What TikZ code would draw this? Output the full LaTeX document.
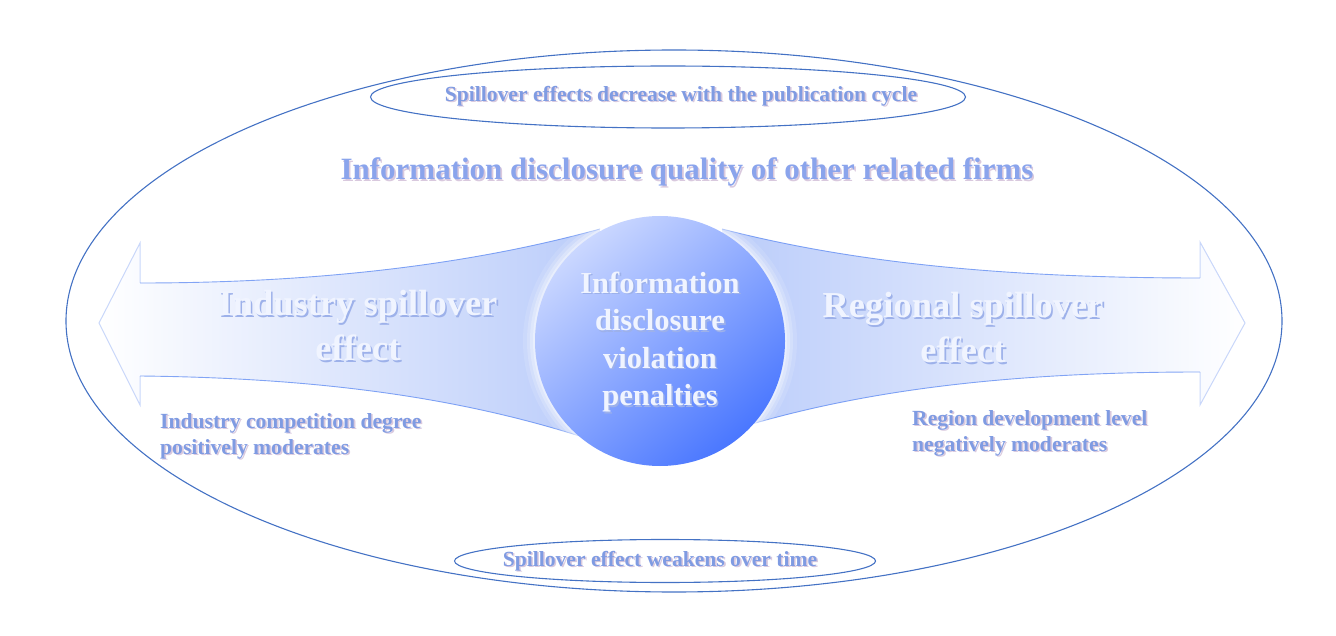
\documentclass[tikz,border=0pt]{standalone}
\usepackage{fontspec}
\setmainfont{Liberation Serif}
\usetikzlibrary{shapes.geometric}

\definecolor{ringblue}{HTML}{4472C4}
\definecolor{labelblue}{HTML}{7F9BE2}
\definecolor{titleblue}{HTML}{8AA4EC}
\definecolor{softshadow}{HTML}{D9C9DE}
\definecolor{paletext}{HTML}{F0F4FF}
\definecolor{paleshadow}{HTML}{9DB1EA}
\definecolor{shaftblue}{HTML}{BACCFA}
\definecolor{edgeblue}{HTML}{5B88F2}
\definecolor{headline}{HTML}{C9D7FA}
\definecolor{corelight}{HTML}{CAD7FF}
\definecolor{coredark}{HTML}{4A77FF}

% text with a soft drop shadow: name, position, style, shadow colour, text
\newcommand\shadowlabel[5]{%
  \node[#3, text=#4, xshift=1.6pt, yshift=-1.6pt] (#1-shadow) at (#2) {#5};
  \node[#3] (#1) at (#2) {#5};}

\begin{document}
\begin{tikzpicture}[x=1pt,y=-1pt,
  ring/.style={ellipse, draw=ringblue, line width=1.1pt, inner sep=0pt},
  title/.style={font=\bfseries\fontsize{31}{34}\selectfont, text=titleblue},
  cycle/.style={font=\bfseries\fontsize{21.6}{24}\selectfont, text=labelblue},
  bigarrow/.style={font=\bfseries\fontsize{36.5}{45}\selectfont, text=paletext, align=center},
  corelabel/.style={font=\bfseries\fontsize{30.5}{37.5}\selectfont, text=paletext, align=center},
  moderator/.style={font=\bfseries\fontsize{21.6}{26}\selectfont, text=labelblue, align=left, anchor=west, inner sep=0pt},
  shaftedge/.style={draw=edgeblue, draw opacity=0.75, line width=0.9pt},
  headedge/.style={draw=headline, line width=1pt}]

\useasboundingbox (0,0) rectangle (1336,636);

% outer frame and the two cycle ellipses
\node[ring, minimum width=1216pt, minimum height=542pt] (outer) at (674,321) {};
\node[ring, minimum width=595pt, minimum height=62pt] (topring) at (668,97) {};
\node[ring, minimum width=421pt, minimum height=43pt] (bottomring) at (665,561) {};

% left arrow (industry)
\shade[left color=white, right color=shaftblue]
  (600,229) .. controls (480,262) and (330,283) .. (140,283)
  -- (140,243) -- (99,323) -- (140,405) -- (140,376)
  .. controls (330,378) and (470,400) .. (592,440) -- cycle;
\draw[headedge] (140,283) -- (140,243) -- (99,323) -- (140,405) -- (140,376);
\path[shaftedge] (600,229) .. controls (480,262) and (330,283) .. (140,283);
\path[shaftedge] (140,376) .. controls (330,378) and (470,400) .. (592,440);

% right arrow (region)
\shade[left color=shaftblue, right color=white]
  (722,229) .. controls (850,262) and (1000,278) .. (1200,278)
  -- (1200,242) -- (1245,323) -- (1200,405) -- (1200,372)
  .. controls (1000,372) and (860,392) .. (745,426) -- cycle;
\draw[headedge] (1200,278) -- (1200,242) -- (1245,323) -- (1200,405) -- (1200,372);
\path[shaftedge] (722,229) .. controls (850,262) and (1000,278) .. (1200,278);
\path[shaftedge] (1200,372) .. controls (1000,372) and (860,392) .. (745,426);

% soft glow around the core circle
\foreach \r/\o in {137/0.12,133/0.18,130/0.25,127/0.35}
  \fill[white, opacity=\o] (660,341) circle[radius=\r];

\node[circle, minimum size=250pt, inner sep=0pt, shading=axis,
  top color=corelight, bottom color=coredark, shading angle=40] (core) at (660,341) {};

% texts
\shadowlabel{title}{687,172}{title}{softshadow}{Information disclosure quality of other related firms}
\shadowlabel{topcycle}{681,96}{cycle}{softshadow}{Spillover effects decrease with the publication cycle}
\shadowlabel{bottomcycle}{660,561}{cycle}{softshadow}{Spillover effect weakens over time}
\shadowlabel{industry}{358,326}{bigarrow}{paleshadow}{Industry spillover\\effect}
\shadowlabel{region}{963,328}{bigarrow}{paleshadow}{Regional spillover\\effect}
\shadowlabel{penalty}{660,342}{corelabel}{paleshadow}{Information\\disclosure\\violation\\penalties}
\shadowlabel{competition}{160,436}{moderator}{softshadow}{Industry competition degree\\positively moderates}
\shadowlabel{development}{912,433}{moderator}{softshadow}{Region development level\\negatively moderates}

\end{tikzpicture}
\end{document}
